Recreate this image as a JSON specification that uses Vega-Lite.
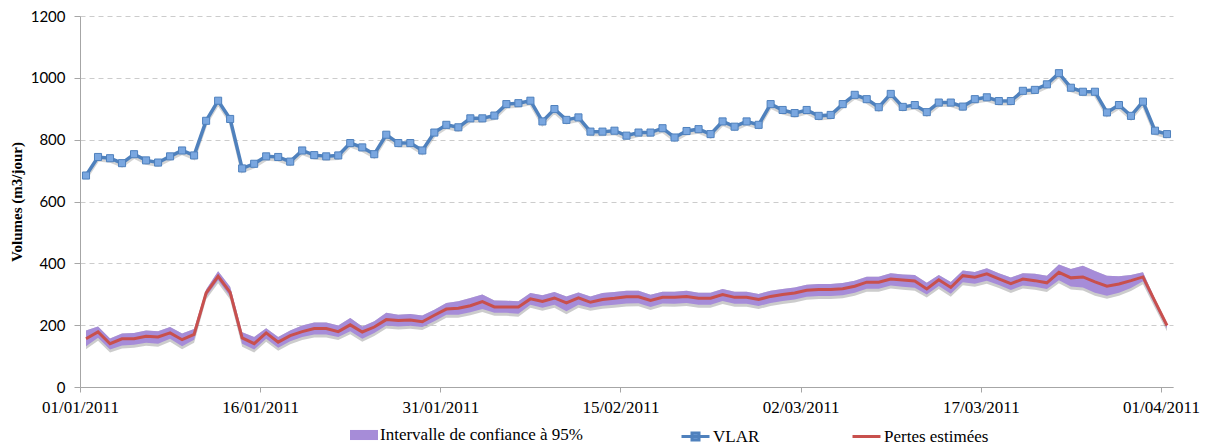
{
  "$schema": "https://vega.github.io/schema/vega-lite/v6.json",
  "width": 1093,
  "height": 371,
  "autosize": {"type": "none"},
  "padding": {"left": 80, "top": 16, "right": 40, "bottom": 58},
  "background": "white",
  "config": {
    "view": {"stroke": null},
    "axis": {"domainColor": "#a6a6a6", "tickColor": "#a6a6a6", "gridColor": "#cccccc", "gridDash": [5, 4], "labelColor": "#000000"}
  },
  "resolve": {"scale": {"color": "independent"}, "legend": {"color": "independent"}},
  "data": {"values": [
    {"date":"2011-01-01","vlar":684,"pertes":156,"lo":132,"hi":183},
    {"date":"2011-01-02","vlar":744,"pertes":178,"lo":159,"hi":196},
    {"date":"2011-01-03","vlar":740,"pertes":140,"lo":121,"hi":157},
    {"date":"2011-01-04","vlar":724,"pertes":156,"lo":134,"hi":173},
    {"date":"2011-01-05","vlar":753,"pertes":156,"lo":137,"hi":175},
    {"date":"2011-01-06","vlar":733,"pertes":164,"lo":143,"hi":183},
    {"date":"2011-01-07","vlar":726,"pertes":162,"lo":140,"hi":180},
    {"date":"2011-01-08","vlar":746,"pertes":175,"lo":156,"hi":194},
    {"date":"2011-01-09","vlar":765,"pertes":153,"lo":132,"hi":173},
    {"date":"2011-01-10","vlar":749,"pertes":170,"lo":153,"hi":188},
    {"date":"2011-01-11","vlar":861,"pertes":304,"lo":293,"hi":315},
    {"date":"2011-01-12","vlar":926,"pertes":358,"lo":345,"hi":374},
    {"date":"2011-01-13","vlar":867,"pertes":306,"lo":293,"hi":324},
    {"date":"2011-01-14","vlar":707,"pertes":159,"lo":140,"hi":177},
    {"date":"2011-01-15","vlar":722,"pertes":140,"lo":121,"hi":162},
    {"date":"2011-01-16","vlar":746,"pertes":175,"lo":156,"hi":190},
    {"date":"2011-01-17","vlar":744,"pertes":145,"lo":127,"hi":162},
    {"date":"2011-01-18","vlar":729,"pertes":166,"lo":148,"hi":183},
    {"date":"2011-01-19","vlar":765,"pertes":179,"lo":162,"hi":199},
    {"date":"2011-01-20","vlar":750,"pertes":189,"lo":170,"hi":209},
    {"date":"2011-01-21","vlar":746,"pertes":189,"lo":170,"hi":209},
    {"date":"2011-01-22","vlar":749,"pertes":179,"lo":162,"hi":199},
    {"date":"2011-01-23","vlar":789,"pertes":201,"lo":180,"hi":223},
    {"date":"2011-01-24","vlar":775,"pertes":178,"lo":156,"hi":196},
    {"date":"2011-01-25","vlar":753,"pertes":194,"lo":175,"hi":213},
    {"date":"2011-01-26","vlar":816,"pertes":218,"lo":199,"hi":240},
    {"date":"2011-01-27","vlar":789,"pertes":215,"lo":196,"hi":234},
    {"date":"2011-01-28","vlar":789,"pertes":217,"lo":198,"hi":236},
    {"date":"2011-01-29","vlar":765,"pertes":211,"lo":194,"hi":231},
    {"date":"2011-01-30","vlar":823,"pertes":232,"lo":213,"hi":250},
    {"date":"2011-01-31","vlar":848,"pertes":252,"lo":234,"hi":272},
    {"date":"2011-02-01","vlar":840,"pertes":255,"lo":234,"hi":277},
    {"date":"2011-02-02","vlar":869,"pertes":263,"lo":242,"hi":288},
    {"date":"2011-02-03","vlar":869,"pertes":276,"lo":252,"hi":299},
    {"date":"2011-02-04","vlar":878,"pertes":259,"lo":240,"hi":280},
    {"date":"2011-02-05","vlar":915,"pertes":259,"lo":240,"hi":279},
    {"date":"2011-02-06","vlar":918,"pertes":259,"lo":237,"hi":277},
    {"date":"2011-02-07","vlar":926,"pertes":285,"lo":266,"hi":304},
    {"date":"2011-02-08","vlar":859,"pertes":277,"lo":256,"hi":297},
    {"date":"2011-02-09","vlar":899,"pertes":288,"lo":266,"hi":307},
    {"date":"2011-02-10","vlar":864,"pertes":272,"lo":245,"hi":293},
    {"date":"2011-02-11","vlar":872,"pertes":288,"lo":266,"hi":306},
    {"date":"2011-02-12","vlar":826,"pertes":274,"lo":256,"hi":293},
    {"date":"2011-02-13","vlar":826,"pertes":283,"lo":263,"hi":304},
    {"date":"2011-02-14","vlar":829,"pertes":287,"lo":266,"hi":307},
    {"date":"2011-02-15","vlar":813,"pertes":292,"lo":270,"hi":311},
    {"date":"2011-02-16","vlar":823,"pertes":292,"lo":271,"hi":311},
    {"date":"2011-02-17","vlar":823,"pertes":280,"lo":259,"hi":298},
    {"date":"2011-02-18","vlar":837,"pertes":290,"lo":270,"hi":308},
    {"date":"2011-02-19","vlar":807,"pertes":290,"lo":269,"hi":308},
    {"date":"2011-02-20","vlar":828,"pertes":293,"lo":272,"hi":311},
    {"date":"2011-02-21","vlar":834,"pertes":287,"lo":266,"hi":305},
    {"date":"2011-02-22","vlar":818,"pertes":287,"lo":266,"hi":305},
    {"date":"2011-02-23","vlar":859,"pertes":299,"lo":278,"hi":317},
    {"date":"2011-02-24","vlar":842,"pertes":290,"lo":269,"hi":308},
    {"date":"2011-02-25","vlar":859,"pertes":290,"lo":269,"hi":308},
    {"date":"2011-02-26","vlar":848,"pertes":283,"lo":262,"hi":301},
    {"date":"2011-02-27","vlar":915,"pertes":293,"lo":272,"hi":311},
    {"date":"2011-02-28","vlar":896,"pertes":299,"lo":278,"hi":317},
    {"date":"2011-03-01","vlar":886,"pertes":304,"lo":283,"hi":322},
    {"date":"2011-03-02","vlar":896,"pertes":313,"lo":292,"hi":331},
    {"date":"2011-03-03","vlar":877,"pertes":315,"lo":294,"hi":333},
    {"date":"2011-03-04","vlar":880,"pertes":315,"lo":294,"hi":333},
    {"date":"2011-03-05","vlar":915,"pertes":318,"lo":297,"hi":336},
    {"date":"2011-03-06","vlar":945,"pertes":326,"lo":305,"hi":344},
    {"date":"2011-03-07","vlar":931,"pertes":339,"lo":318,"hi":357},
    {"date":"2011-03-08","vlar":905,"pertes":339,"lo":318,"hi":357},
    {"date":"2011-03-09","vlar":948,"pertes":349,"lo":328,"hi":368},
    {"date":"2011-03-10","vlar":906,"pertes":346,"lo":324,"hi":364},
    {"date":"2011-03-11","vlar":912,"pertes":343,"lo":321,"hi":362},
    {"date":"2011-03-12","vlar":889,"pertes":317,"lo":299,"hi":337},
    {"date":"2011-03-13","vlar":920,"pertes":347,"lo":327,"hi":362},
    {"date":"2011-03-14","vlar":920,"pertes":322,"lo":302,"hi":340},
    {"date":"2011-03-15","vlar":907,"pertes":360,"lo":339,"hi":377},
    {"date":"2011-03-16","vlar":931,"pertes":355,"lo":334,"hi":372},
    {"date":"2011-03-17","vlar":937,"pertes":366,"lo":344,"hi":384},
    {"date":"2011-03-18","vlar":925,"pertes":350,"lo":330,"hi":368},
    {"date":"2011-03-19","vlar":925,"pertes":334,"lo":314,"hi":354},
    {"date":"2011-03-20","vlar":958,"pertes":349,"lo":328,"hi":368},
    {"date":"2011-03-21","vlar":961,"pertes":344,"lo":324,"hi":366},
    {"date":"2011-03-22","vlar":979,"pertes":337,"lo":317,"hi":360},
    {"date":"2011-03-23","vlar":1015,"pertes":371,"lo":345,"hi":396},
    {"date":"2011-03-24","vlar":968,"pertes":353,"lo":325,"hi":382},
    {"date":"2011-03-25","vlar":955,"pertes":356,"lo":322,"hi":392},
    {"date":"2011-03-26","vlar":955,"pertes":340,"lo":305,"hi":375},
    {"date":"2011-03-27","vlar":888,"pertes":326,"lo":295,"hi":360},
    {"date":"2011-03-28","vlar":912,"pertes":333,"lo":305,"hi":358},
    {"date":"2011-03-29","vlar":877,"pertes":344,"lo":320,"hi":362},
    {"date":"2011-03-30","vlar":923,"pertes":356,"lo":342,"hi":371},
    {"date":"2011-03-31","vlar":829,"pertes":277,"lo":265,"hi":285},
    {"date":"2011-04-01","vlar":818,"pertes":199,"lo":190,"hi":206}
  ]},
  "encoding": {
    "x": {
      "field": "date", "type": "temporal", "timeUnit": "utcyearmonthdate", "bandPosition": 0.5,
      "scale": {"type": "utc", "domain": [{"year": 2011, "month": 1, "date": 1, "utc": true}, {"year": 2011, "month": 4, "date": 2, "utc": true}], "nice": false},
      "axis": {
        "title": null, "grid": false,
        "labelExpr": "utcFormat(datum.value, '%d/%m/%Y')",
        "values": [
          {"year": 2011, "month": 1, "date": 1, "utc": true},
          {"year": 2011, "month": 1, "date": 16, "utc": true},
          {"year": 2011, "month": 1, "date": 31, "utc": true},
          {"year": 2011, "month": 2, "date": 15, "utc": true},
          {"year": 2011, "month": 3, "date": 2, "utc": true},
          {"year": 2011, "month": 3, "date": 17, "utc": true},
          {"year": 2011, "month": 4, "date": 1, "utc": true}
        ],
        "labelFont": "Liberation Serif", "labelFontSize": 17, "labelPadding": 7, "tickSize": 5,
        "labelAngle": 0, "labelOverlap": false, "labelFlush": false
      }
    }
  },
  "layer": [
    {
      "mark": {"type": "area", "opacity": 0.3, "yOffset": 3, "color": "#555555"},
      "encoding": {
        "y": {"field": "lo", "type": "quantitative", "scale": {"domain": [0, 1200], "nice": false},
          "axis": {"title": "Volumes (m3/jour)", "titleFont": "Liberation Serif", "titleFontSize": 15, "titleFontWeight": "bold", "titlePadding": 6, "titleColor": "#000000",
            "values": [0, 200, 400, 600, 800, 1000, 1200], "format": "d", "labelFont": "Lato", "labelFontSize": 15, "labelPadding": 9, "tickSize": 6, "grid": true}},
        "y2": {"field": "hi"}
      }
    },
    {
      "mark": {"type": "area", "opacity": 1},
      "encoding": {
        "y": {"field": "lo", "type": "quantitative"},
        "y2": {"field": "hi"},
        "color": {"datum": "Intervalle de confiance à 95%", "type": "nominal",
          "scale": {"domain": ["Intervalle de confiance à 95%"], "range": ["#a68cd8"]},
          "legend": {
            "orient": "none", "legendX": 270, "legendY": 405, "title": null,
            "labelFont": "Liberation Serif", "labelFontSize": 17, "labelColor": "#000000", "labelLimit": 400,
            "symbolType": "M-1,-0.36H1V0.36H-1Z", "symbolSize": 784, "symbolStrokeWidth": 0, "symbolOpacity": 1, "labelOffset": 2, "padding": 0
          }
        }
      }
    },
    {
      "mark": {"type": "line", "strokeWidth": 3, "opacity": 0.25, "color": "#555555", "yOffset": 3},
      "encoding": {"y": {"field": "vlar", "type": "quantitative"}}
    },
    {
      "mark": {"type": "line", "strokeWidth": 3.5},
      "encoding": {
        "y": {"field": "vlar", "type": "quantitative"},
        "color": {"datum": "VLAR", "type": "nominal",
          "scale": {"domain": ["VLAR"], "range": ["#4f81bd"]},
          "legend": {
            "orient": "none", "legendX": 600, "legendY": 405, "title": null,
            "labelFont": "Liberation Serif", "labelFontSize": 17, "labelColor": "#000000", "labelLimit": 400,
            "symbolType": "M-1,0H1M-0.25,-0.25H0.25V0.25H-0.25Z", "symbolSize": 784, "symbolStrokeWidth": 3,
            "symbolFillColor": "#7aa7e0", "symbolOpacity": 1, "labelOffset": 2, "padding": 0,
            "encode": {"symbols": {"update": {"fill": {"value": "#7aa7e0"}, "stroke": {"value": "#4f81bd"}}}}
          }
        }
      }
    },
    {
      "mark": {"type": "point", "shape": "square", "filled": true, "size": 50, "fill": "#7aa7e0", "stroke": "#4f81bd", "strokeWidth": 1, "opacity": 1},
      "encoding": {"y": {"field": "vlar", "type": "quantitative"}}
    },
    {
      "mark": {"type": "line", "strokeWidth": 3},
      "encoding": {
        "y": {"field": "pertes", "type": "quantitative"},
        "color": {"datum": "Pertes estimées", "type": "nominal",
          "scale": {"domain": ["Pertes estimées"], "range": ["#c8504d"]},
          "legend": {
            "orient": "none", "legendX": 771, "legendY": 405, "title": null,
            "labelFont": "Liberation Serif", "labelFontSize": 17, "labelColor": "#000000", "labelLimit": 400,
            "symbolType": "M-1,0H1", "symbolSize": 784, "symbolStrokeWidth": 3, "symbolOpacity": 1, "labelOffset": 2, "padding": 0
          }
        }
      }
    }
  ]
}
